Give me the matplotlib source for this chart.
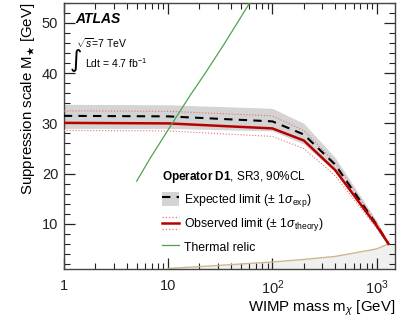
import numpy as np
import matplotlib
matplotlib.use("Agg")
import matplotlib.pyplot as plt
import matplotlib.ticker as mticker
from matplotlib.lines import Line2D
from matplotlib.patches import Patch
from matplotlib.legend_handler import HandlerBase, HandlerTuple

plt.rcParams["font.family"] = ["Liberation Sans", "DejaVu Sans"]
plt.rcParams["mathtext.fontset"] = "custom"
plt.rcParams["mathtext.rm"] = "Liberation Sans"
plt.rcParams["mathtext.it"] = "Liberation Sans:italic"
plt.rcParams["mathtext.bf"] = "Liberation Sans:bold"

# --- data ---
mass = [1, 10, 100, 200, 400, 1000, 1300]
expected = [31.5, 31.4, 30.4, 27.8, 21.8, 9.8, 6.0]
exp_up = [33.8, 33.7, 33.0, 30.0, 23.2, 10.6, 6.2]
exp_dn = [29.0, 29.0, 28.5, 25.9, 20.4, 9.1, 5.9]
observed = [30.1, 30.0, 29.0, 26.6, 20.7, 9.6, 6.0]
obs_up = [32.5, 32.4, 31.5, 28.6, 22.2, 10.2, 6.2]
obs_dn = [28.6, 28.5, 27.4, 25.0, 19.6, 9.1, 5.8]

relic_mass = [5, 6.7, 9, 12.1, 16.3, 22.7, 34, 61]
relic = [18.5, 23.0, 27.2, 31.4, 35.6, 40.0, 45.6, 54.1]

valid_mass = [10, 30, 100, 200, 400, 1000, 1300]
valid = [1.1, 1.7, 2.4, 2.9, 3.5, 5.0, 6.0]
fill_mass = valid_mass + [1500]
fill_lim = valid + [6.0]

RED = "#b80000"
PINK = "#e87070"
GREEN = "#4fa34f"
TAN = "#c9b98f"


class HandlerObserved(HandlerBase):
    """red line with dotted theory band above and below"""
    def create_artists(self, legend, orig_handle, xdescent, ydescent,
                       width, height, fontsize, trans):
        y0 = height / 2 - ydescent
        x = [-xdescent, -xdescent + width]
        arts = []
        for dy, ls, lw, c in [(0, "-", 1.8, RED),
                              (height * 0.42, ":", 0.9, PINK),
                              (-height * 0.42, ":", 0.9, PINK)]:
            ln = Line2D(x, [y0 + dy] * 2, linestyle=ls, linewidth=lw, color=c)
            ln.set_transform(trans)
            arts.append(ln)
        return arts


fig = plt.figure(figsize=(3.99, 3.21), dpi=100)
ax = fig.add_axes([0.160, 0.162, 0.830, 0.829])

# excluded region at the bottom
ax.fill_between(fill_mass, 0, fill_lim, color="#f0f0f0", lw=0, zorder=1)
ax.plot(valid_mass, valid, color=TAN, lw=1.0, zorder=2)

# expected band + line
ax.fill_between(mass, exp_dn, exp_up, color="#d4d4d4", lw=0, zorder=2)
ax.plot(mass, obs_up, color=PINK, lw=0.8, ls=":", zorder=3)
ax.plot(mass, obs_dn, color=PINK, lw=0.8, ls=":", zorder=3)
exp_line, = ax.plot(mass, expected, color="black", lw=1.5, ls=(0, (4, 3)), zorder=4)
obs_line, = ax.plot(mass, observed, color=RED, lw=1.8, zorder=5)
relic_line, = ax.plot(relic_mass, relic, color=GREEN, lw=0.9, zorder=6)

ax.set_xscale("log")
ax.set_xlim(1, 1500)
ax.set_ylim(1, 54)

ax.xaxis.set_major_formatter(mticker.FuncFormatter(
    lambda v, p: {1: "1", 10: "10"}.get(int(round(v)), r"$10^{%d}$" % round(np.log10(v)))))
ax.yaxis.set_major_locator(mticker.MultipleLocator(10))
ax.yaxis.set_minor_locator(mticker.MultipleLocator(2))
ax.tick_params(which="both", direction="in", top=True, right=True,
               labelsize=10.5, colors="#222222")
ax.tick_params(which="major", length=8, width=0.9)
ax.tick_params(which="minor", length=4, width=0.8)
ax.tick_params(axis="x", which="major", pad=7)
ax.tick_params(axis="y", which="major", pad=4)
for s in ax.spines.values():
    s.set_linewidth(1.0)
    s.set_color("#444444")

ax.set_xlabel(r"WIMP mass m$_{\chi}$ [GeV]", fontsize=10.8, loc="right", labelpad=1)
ax.set_ylabel(r"Suppression scale M$_{\bigstar}$ [GeV]", fontsize=10.8, loc="top", labelpad=3)

ax.text(0.035, 0.965, "ATLAS", transform=ax.transAxes, fontsize=10,
        fontweight="bold", fontstyle="italic", va="top", ha="left")
ax.text(0.037, 0.85, r"$\sqrt{s}$=7 TeV", transform=ax.transAxes, fontsize=7.5,
        va="center", ha="left")
ax.text(0.035, 0.785, "\u222b", transform=ax.transAxes, fontsize=17,
        family="DejaVu Sans", va="center", ha="center")
ax.text(0.063, 0.772, r"Ldt = 4.7 fb$^{-1}$", transform=ax.transAxes,
        fontsize=7.5, va="center", ha="left")

leg = ax.legend([(Patch(facecolor="#d4d4d4", edgecolor="none"), exp_line),
                 obs_line, relic_line],
                [r"Expected limit ($\pm$ 1$\sigma_{\rm exp}$)",
                 r"Observed limit ($\pm$ 1$\sigma_{\rm theory}$)",
                 "Thermal relic"],
                handler_map={tuple: HandlerTuple(ndivide=1), obs_line: HandlerObserved()},
                title=r"$\bf{Operator\ D1}$, SR3, 90%CL", title_fontsize=8.5,
                fontsize=8.8, loc="upper left", bbox_to_anchor=(0.29, 0.385),
                frameon=False, alignment="left", handlelength=1.4,
                handleheight=1.4, handletextpad=0.4, labelspacing=0.55,
                borderaxespad=0, borderpad=0.2)

fig.savefig("out.png", dpi=100)
